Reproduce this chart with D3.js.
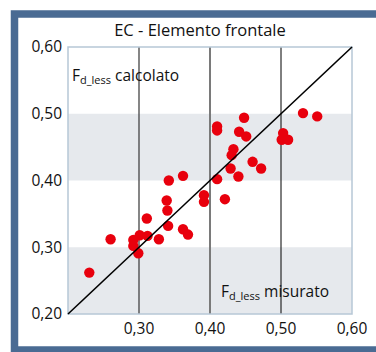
<!DOCTYPE html>
<html>
<head>
<meta charset="utf-8">
<script src="https://cdn.jsdelivr.net/npm/d3@7"></script>
<style>
	body { margin: 0; background: #fff; }
	#chart { width: 376px; height: 352px; }
	text { font-family: "Open Sans", sans-serif; fill: #111; }
</style>
</head>
<body>
<div id="chart"></div>
<script>

// measured (x) vs calculated (y) F_d_less values
let xMeasured = [0.230, 0.260, 0.292, 0.292, 0.299, 0.301, 0.312, 0.328, 0.341, 0.362, 0.369, 0.311,
	0.340, 0.339, 0.342, 0.362, 0.3915, 0.3915, 0.410, 0.421, 0.429, 0.440, 0.4305, 0.433,
	0.460, 0.472, 0.451, 0.441, 0.410, 0.410, 0.448, 0.503, 0.501, 0.510, 0.531, 0.551];
let yCalculated = [0.262, 0.312, 0.311, 0.302, 0.291, 0.318, 0.317, 0.312, 0.332, 0.327, 0.319, 0.343,
	0.355, 0.370, 0.400, 0.407, 0.378, 0.368, 0.402, 0.372, 0.418, 0.406, 0.438, 0.447,
	0.428, 0.418, 0.466, 0.473, 0.475, 0.481, 0.494, 0.471, 0.461, 0.461, 0.501, 0.496];

let yTicks = [0.20, 0.30, 0.40, 0.50, 0.60];
let xTicks = [0.30, 0.40, 0.50, 0.60];
let bands = [[0.20, 0.30], [0.40, 0.50]];
let refLines = [0.30, 0.40, 0.50];

let fmt = d => d3.format(".2f")(d).replace(".", ",");

class ScatterChart {

	constructor(parentElement) {
		this.parentElement = parentElement;
		this.data = xMeasured.map((x, i) => ({x: x, y: yCalculated[i]}));
		this.initVis();
	}

	initVis() {
		let vis = this;

		vis.margin = {top: 47, right: 24, bottom: 38, left: 68};
		vis.width = 376 - vis.margin.left - vis.margin.right;
		vis.height = 352 - vis.margin.top - vis.margin.bottom;

		vis.root = d3.select("#" + vis.parentElement).append("svg")
			.attr("width", 376)
			.attr("height", 352);

		// blue frame
		vis.root.append("rect")
			.attr("x", 14.5)
			.attr("y", 14)
			.attr("width", 420)
			.attr("height", 336)
			.attr("fill", "none")
			.attr("stroke", "#4a6b93")
			.attr("stroke-width", 7.5);

		vis.root.append("text")
			.attr("x", 200)
			.attr("y", 35.5)
			.attr("text-anchor", "middle")
			.attr("font-size", 16.5)
			.text("EC - Elemento frontale");

		vis.svg = vis.root.append("g")
			.attr("transform", "translate(" + vis.margin.left + "," + vis.margin.top + ")");

		vis.x = d3.scaleLinear().domain([0.2, 0.6]).range([0, vis.width]);
		vis.y = d3.scaleLinear().domain([0.2, 0.6]).range([vis.height, 0]);

		vis.updateVis();
	}

	updateVis() {
		let vis = this;

		// grey bands
		vis.svg.selectAll(".band")
			.data(bands)
			.enter()
			.append("rect")
			.attr("class", "band")
			.attr("x", 0)
			.attr("y", d => vis.y(d[1]))
			.attr("width", vis.width)
			.attr("height", d => vis.y(d[0]) - vis.y(d[1]))
			.attr("fill", "#e6e9ed");

		// vertical reference lines
		let lineStyle = {0.3: ["#444", 1.3], 0.4: ["#7a7a7a", 2], 0.5: ["#000", 1]};
		vis.svg.selectAll(".vline")
			.data(refLines)
			.enter()
			.append("line")
			.attr("class", "vline")
			.attr("x1", d => vis.x(d))
			.attr("x2", d => vis.x(d))
			.attr("y1", 0)
			.attr("y2", vis.height)
			.attr("stroke", d => lineStyle[d][0])
			.attr("stroke-width", d => lineStyle[d][1]);

		// plot border
		vis.svg.append("rect")
			.attr("width", vis.width)
			.attr("height", vis.height)
			.attr("fill", "none")
			.attr("stroke", "#b7c7d6")
			.attr("stroke-width", 1.5);

		// points
		vis.svg.selectAll(".dot")
			.data(vis.data)
			.enter()
			.append("circle")
			.attr("class", "dot")
			.attr("cx", d => vis.x(d.x))
			.attr("cy", d => vis.y(d.y))
			.attr("r", 5.2)
			.attr("fill", "#e8000d");

		// bisector
		vis.svg.append("line")
			.attr("x1", vis.x(0.2))
			.attr("y1", vis.y(0.2))
			.attr("x2", vis.x(0.6))
			.attr("y2", vis.y(0.6))
			.attr("stroke", "#000")
			.attr("stroke-width", 1.6);

		// axes labels
		vis.svg.selectAll(".ylab")
			.data(yTicks)
			.enter()
			.append("text")
			.attr("class", "ylab")
			.attr("x", -6)
			.attr("y", d => vis.y(d))
			.attr("dy", "0.35em")
			.attr("text-anchor", "end")
			.attr("font-size", 15.5)
			.text(fmt);

		vis.svg.selectAll(".xlab")
			.data(xTicks)
			.enter()
			.append("text")
			.attr("class", "xlab")
			.attr("x", d => vis.x(d))
			.attr("y", vis.height + 15)
			.attr("dy", "0.35em")
			.attr("text-anchor", "middle")
			.attr("font-size", 15.5)
			.text(fmt);

		// axis names inside the plot
		let yName = vis.svg.append("text")
			.attr("x", 4)
			.attr("y", 34)
			.attr("font-size", 15.5);
		yName.append("tspan").text("F");
		yName.append("tspan").attr("dy", 3).attr("font-size", 11).text("d_less");
		yName.append("tspan").attr("dy", -3).text(" calcolato");

		let xName = vis.svg.append("text")
			.attr("x", 153)
			.attr("y", 250)
			.attr("font-size", 15.5);
		xName.append("tspan").text("F");
		xName.append("tspan").attr("dy", 3).attr("font-size", 11).text("d_less");
		xName.append("tspan").attr("dy", -3).text(" misurato");
	}
}

new ScatterChart("chart");

</script>
</body>
</html>
